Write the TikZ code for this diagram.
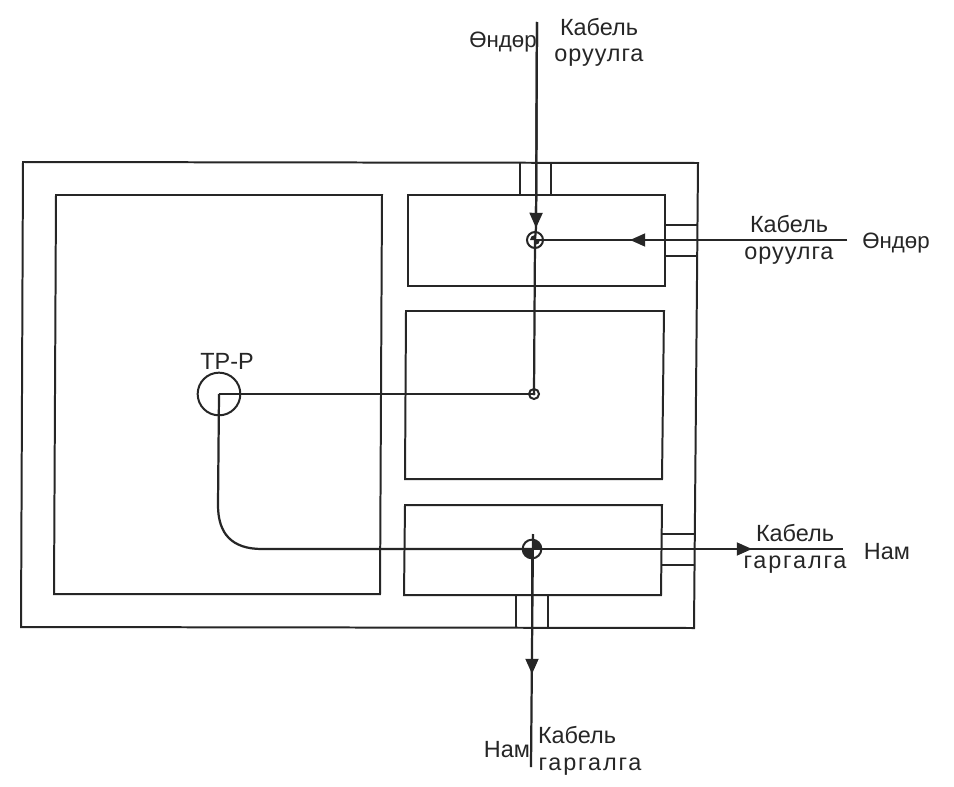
\documentclass[tikz,border=0pt]{standalone}
\usepackage{fontspec}
\setmainfont{Liberation Sans}
\usetikzlibrary{arrows.meta}
\definecolor{ink}{HTML}{262626}
\tikzset{
  x=0.03cm,y=-0.03cm,
  line/.style={draw=ink,line width=1.9pt},
  wall/.style={draw=ink,line width=1.7pt,line join=miter},
  arrowline/.style={draw=ink,line width=1.9pt,-{Triangle[length=13pt,width=11pt,fill=ink]}},
  lab/.style={text=ink,font=\fontsize{20}{24}\selectfont,inner sep=0pt},
  labwide/.style={lab,font=\fontsize{20}{24}\selectfont\addfontfeature{LetterSpace=4}},
  labmid/.style={lab,font=\fontsize{20}{24}\selectfont\addfontfeature{LetterSpace=8}},
  labnar/.style={lab,font=\fontsize{19}{24}\selectfont},
  ring/.style={circle,draw=ink,line width=1.7pt,fill=white,inner sep=0pt},
}
\begin{document}
\begin{tikzpicture}
\useasboundingbox (0,0) rectangle (954,787);
\fill[white] (0,0) rectangle (954,787);
% housing and compartments
\draw[wall] (23,162) -- (698,163) -- (694,628) -- (21,627) -- cycle;
\draw[wall] (56,195) -- (382,195) -- (380,594) -- (54,594) -- cycle;
\draw[wall] (408,195) -- (665,195) -- (665,286) -- (408,286) -- cycle;
\draw[wall] (406,311) -- (664,311) -- (662,479) -- (405,479) -- cycle;
\draw[wall] (405,505) -- (662,505) -- (661,595) -- (404,595) -- cycle;
% glands
\draw[wall] (520,163) -- (520,195) (551,163) -- (551,195);
\draw[wall] (665,225) -- (697,225) (665,256) -- (697,256);
\draw[wall] (662,534) -- (695,534) (662,565) -- (695,565);
\draw[wall] (516,595) -- (516,627) (548,595) -- (548,627);
% junction nodes
\node[ring,minimum size=0.48cm] (tj) at (535,240) {};
\node[ring,minimum size=0.3cm] (mj) at (534,394) {};
\node[ring,minimum size=0.56cm,fill=white] (bj) at (532,549) {};
\node[circle,draw=ink,line width=1.7pt,minimum size=1.28cm,inner sep=0pt] (tp) at (219,394) {};
\fill[ink] (tj.center) -- ++(5,0) arc[start angle=0,end angle=90,radius=5] -- cycle;
\fill[ink] (tj.center) -- ++(-5,0) arc[start angle=180,end angle=270,radius=5] -- cycle;
\fill[ink] (bj.center) -- ++(-9,0) arc[start angle=180,end angle=90,radius=9] -- cycle;
\fill[ink] (bj.center) -- ++(9,0) arc[start angle=0,end angle=-90,radius=9] -- cycle;
\fill[ink] (mj.center) circle[radius=1.6];
% free ends and arrow tips
\coordinate (topend) at (537,22);
\coordinate (toptip) at (536,228);
\coordinate (rightend) at (847,240);
\coordinate (righttip) at (630,240);
\coordinate (rightout) at (843,549);
\coordinate (outtip) at (752,549);
\coordinate (downend) at (531,767);
\coordinate (downtip) at (532,674);
\coordinate (bjtop) at (533,534);
% connectors
\draw[line] (topend) -- (toptip) -- (tj.center);
\draw[arrowline] (topend) -- (toptip);
\draw[line] (rightend) -- (righttip) -- (tj.center);
\draw[arrowline] (rightend) -- (righttip);
\draw[line] (tj.center) -- (mj.center);
\draw[line] (mj.center) -- (tp.center);
\draw[line] (tp.center) -- (218,505) .. controls (218,534) and (232,549) .. (262,549) -- (bj.center);
\draw[line] (bj.center) -- (rightout);
\draw[arrowline] (bj.center) -- (outtip);
\draw[line] (bjtop) -- (downend);
\draw[arrowline] (bj.center) -- (downtip);
% labels
\node[labnar] (l1) at (503,42) {Өндөр};
\node[lab] (l2) at (599,27) {Кабель};
\node[labwide] (l3) at (599,58) {оруулга};
\node[lab] (l4) at (789,224) {Кабель};
\node[labwide] (l5) at (789,256) {оруулга};
\node[labnar] (l6) at (896,243) {Өндөр};
\node[lab] (l7) at (227,361) {ТР-Р};
\node[lab] (l8) at (795,533) {Кабель};
\node[labmid] (l9) at (795,565) {гаргалга};
\node[lab] (l10) at (887,552) {Нам};
\node[lab] (l11) at (507,750) {Нам};
\node[lab] (l12) at (577,735) {Кабель};
\node[labmid] (l13) at (590,767) {гаргалга};
\end{tikzpicture}
\end{document}
